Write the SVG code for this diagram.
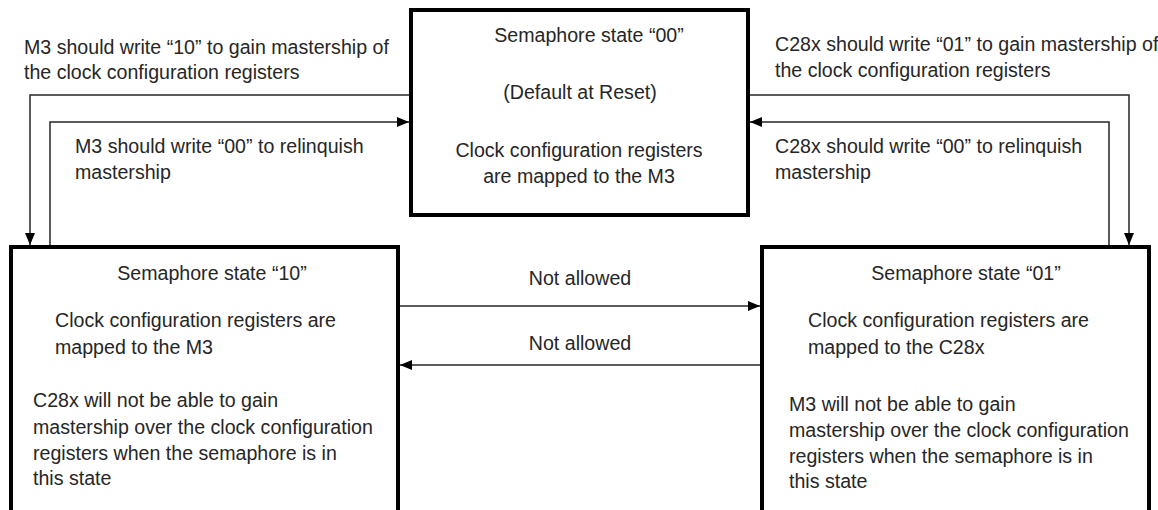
<svg xmlns="http://www.w3.org/2000/svg" width="1158" height="510" viewBox="0 0 1158 510">
<style>
.box{fill:#fff;stroke:#000;stroke-width:4}
.ln{fill:none;stroke:#262626;stroke-width:1.5}
text{font-family:"Liberation Sans",Arial,sans-serif;font-size:19.6px;fill:#262626}
.c{text-anchor:middle}
</style>
<defs>
<marker id="ah" viewBox="0 0 12 10" refX="12" refY="5" markerWidth="12" markerHeight="10" markerUnits="userSpaceOnUse" orient="auto">
<path d="M0,0 L12,5 L0,10 Z" fill="#000"/>
</marker>
</defs>
<rect width="1158" height="510" fill="#fff"/>
<g id="connectors">
<path class="ln" d="M411,95 H30 V245" marker-end="url(#ah)"/>
<path class="ln" d="M50,245 V122 H409" marker-end="url(#ah)"/>
<path class="ln" d="M748,95 H1129 V245" marker-end="url(#ah)"/>
<path class="ln" d="M1109,245 V122 H750" marker-end="url(#ah)"/>
<path class="ln" d="M400,306 H760" marker-end="url(#ah)"/>
<path class="ln" d="M760,365 H400" marker-end="url(#ah)"/>
<text class="c" x="580" y="285">Not allowed</text>
<text class="c" x="580" y="350">Not allowed</text>
<text x="24" y="54">M3 should write “10” to gain mastership of</text>
<text x="24" y="79">the clock configuration registers</text>
<text x="75" y="153">M3 should write “00” to relinquish</text>
<text x="75" y="179">mastership</text>
<text x="775" y="51">C28x should write “01” to gain mastership of</text>
<text x="775" y="77">the clock configuration registers</text>
<text x="775" y="153">C28x should write “00” to relinquish</text>
<text x="775" y="179">mastership</text>
</g>
<g id="state00">
<rect class="box" x="411" y="10" width="337" height="205"/>
<text class="c" x="589" y="42">Semaphore state “00”</text>
<text class="c" x="580" y="99">(Default at Reset)</text>
<text class="c" x="579" y="157">Clock configuration registers</text>
<text class="c" x="579" y="183">are mapped to the M3</text>
</g>
<g id="state10">
<rect class="box" x="11" y="247" width="387" height="280"/>
<text class="c" x="212" y="280">Semaphore state “10”</text>
<text x="55" y="327">Clock configuration registers are</text>
<text x="55" y="354">mapped to the M3</text>
<text x="33" y="407">C28x will not be able to gain</text>
<text x="33" y="434">mastership over the clock configuration</text>
<text x="33" y="460">registers when the semaphore is in</text>
<text x="33" y="485">this state</text>
</g>
<g id="state01">
<rect class="box" x="762" y="247" width="387" height="280"/>
<text class="c" x="966" y="280">Semaphore state “01”</text>
<text x="808" y="327">Clock configuration registers are</text>
<text x="808" y="354">mapped to the C28x</text>
<text x="789" y="411">M3 will not be able to gain</text>
<text x="789" y="437">mastership over the clock configuration</text>
<text x="789" y="463">registers when the semaphore is in</text>
<text x="789" y="488">this state</text>
</g>
</svg>
